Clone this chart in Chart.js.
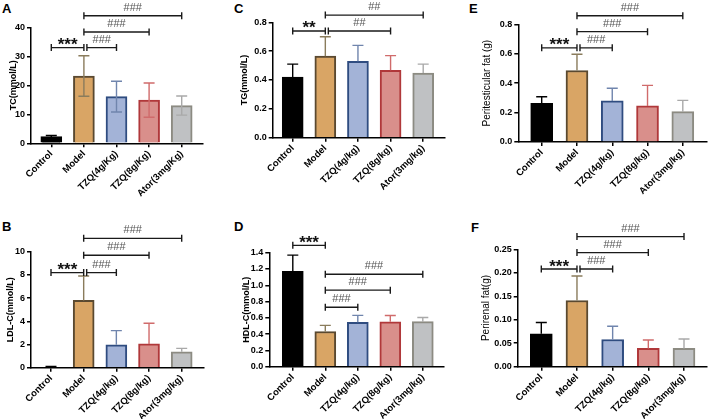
<!DOCTYPE html>
<html>
<head>
<meta charset="utf-8">
<script src="https://cdn.jsdelivr.net/npm/chart.js@4.4.1/dist/chart.umd.min.js"></script>
<style>
  body { margin: 0; background: #fff; }
  #fig { position: relative; width: 708px; height: 419px; overflow: hidden; font-family: "Liberation Sans", Arial, sans-serif; }
  #fig canvas { position: absolute; }
  .tag { position: absolute; font-weight: bold; font-size: 13px; line-height: 13px; color: #000; }
</style>
</head>
<body>
<div id="fig">
  <div class="tag" style="left:2px;top:2px">A</div>
  <div class="tag" style="left:234px;top:2px">C</div>
  <div class="tag" style="left:469px;top:2px">E</div>
  <div class="tag" style="left:2px;top:220px">B</div>
  <div class="tag" style="left:234px;top:220px">D</div>
  <div class="tag" style="left:471px;top:221px">F</div>
  <canvas id="cA" width="236" height="205" style="left:0;top:0"></canvas>
  <canvas id="cC" width="234" height="205" style="left:236px;top:0"></canvas>
  <canvas id="cE" width="238" height="205" style="left:470px;top:0"></canvas>
  <canvas id="cB" width="236" height="214" style="left:0;top:205px"></canvas>
  <canvas id="cD" width="234" height="214" style="left:236px;top:205px"></canvas>
  <canvas id="cF" width="238" height="214" style="left:470px;top:205px"></canvas>
</div>
<script>
// groups
const groupsA = ['Control', 'Model', 'TZQ(4g/Kg)', 'TZQ(8g/Kg)', 'Ator(3mg/Kg)'];
const groups = ['Control', 'Model', 'TZQ(4g/kg)', 'TZQ(8g/kg)', 'Ator(3mg/kg)'];

// A - TC
const tcMean = [2.3, 23.2, 16.1, 14.9, 13.0];
const tcSd = [0.4, 7.0, 5.3, 5.9, 3.3];
const tcTicks = ['0', '10', '20', '30', '40'];
const tcSig = [[0, 1, 33, '***'], [1, 2, 33, '###'], [1, 3, 38.4, '###'], [1, 4, 44, '###']];

// C - TG
const tgMean = [0.42, 0.565, 0.53, 0.467, 0.448];
const tgSd = [0.09, 0.135, 0.11, 0.102, 0.062];
const tgTicks = ['0.0', '0.2', '0.4', '0.6', '0.8'];
const tgSig = [[0, 1, 0.74, '**'], [1, 3, 0.74, '##'], [1, 4, 0.85, '##']];

// E - peritesticular fat
const ptfMean = [0.263, 0.486, 0.279, 0.245, 0.206];
const ptfSd = [0.045, 0.11, 0.086, 0.14, 0.077];
const ptfTicks = ['0.0', '0.2', '0.4', '0.6', '0.8'];
const ptfSig = [[0, 1, 0.64, '***'], [1, 2, 0.64, '###'], [1, 3, 0.75, '###'], [1, 4, 0.858, '###']];

// B - LDL-C
const ldlMean = [0.06, 5.8, 1.98, 2.05, 1.37];
const ldlSd = [0.04, 2.1, 1.22, 1.78, 0.3];
const ldlTicks = ['0', '2', '4', '6', '8', '10'];
const ldlSig = [[0, 1, 8.2, '***'], [1, 2, 8.2, '###'], [1, 3, 9.7, '###'], [1, 4, 11.15, '###']];

// D - HDL-C
const hdlMean = [1.17, 0.432, 0.545, 0.552, 0.553];
const hdlSd = [0.2, 0.075, 0.085, 0.077, 0.052];
const hdlTicks = ['0.0', '0.2', '0.4', '0.6', '0.8', '1.0', '1.2', '1.4'];
const hdlSig = [[0, 1, 1.49, '***'], [1, 2, 0.73, '###'], [1, 3, 0.94, '###'], [1, 4, 1.135, '###']];

// F - perirenal fat
const prfMean = [0.070, 0.141, 0.058, 0.039, 0.039];
const prfSd = [0.024, 0.052, 0.028, 0.018, 0.02];
const prfTicks = ['0.00', '0.05', '0.10', '0.15', '0.20', '0.25'];
const prfSig = [[0, 1, 0.208, '***'], [1, 2, 0.208, '###'], [1, 3, 0.243, '###'], [1, 4, 0.277, '###']];

// styles
const fills = ['#000000', '#d9a565', '#a3b3d7', '#d98f8b', '#bfc1c3'];
const edges = ['#000000', '#5a4930', '#2f4c80', '#b0383a', '#8c8b82'];
const errCols = ['#000000', '#8a7c5c', '#7085ad', '#d06b6b', '#a9a9a9'];

Chart.defaults.font.family = '"Liberation Sans", Arial, sans-serif';
Chart.defaults.color = '#000';

const marks = {
  id: 'marks',
  afterDatasetsDraw(chart, args, o) {
    const ctx = chart.ctx;
    const xs = chart.scales.x, ys = chart.scales.y;
    const bars = chart.getDatasetMeta(0).data;
    ctx.save();
    ctx.lineWidth = 1.4;
    bars.forEach((bar, i) => {
      const top = ys.getPixelForValue(o.means[i] + o.sd[i]);
      const bot = o.twoSided ? ys.getPixelForValue(o.means[i] - o.sd[i]) : bar.y;
      ctx.strokeStyle = errCols[i];
      ctx.beginPath();
      ctx.moveTo(bar.x, bot); ctx.lineTo(bar.x, top);
      ctx.moveTo(bar.x - 5.5, top); ctx.lineTo(bar.x + 5.5, top);
      if (o.twoSided) { ctx.moveTo(bar.x - 5.5, bot); ctx.lineTo(bar.x + 5.5, bot); }
      ctx.stroke();
    });
    o.sig.forEach(([a, b, lvl, txt]) => {
      let x1 = xs.getPixelForValue(a);
      const x2 = xs.getPixelForValue(b);
      if (o.sig.some(s => s[1] === a && s[2] === lvl)) x1 += 3;
      const y = ys.getPixelForValue(lvl);
      ctx.strokeStyle = '#1a1a1a';
      ctx.beginPath();
      ctx.moveTo(x1, y); ctx.lineTo(x2, y);
      ctx.moveTo(x1, y - 3.5); ctx.lineTo(x1, y + 3.5);
      ctx.moveTo(x2, y - 3.5); ctx.lineTo(x2, y + 3.5);
      ctx.stroke();
      ctx.textAlign = 'center';
      ctx.textBaseline = 'alphabetic';
      if (txt[0] === '*') {
        ctx.font = 'bold 17px "Liberation Sans", Arial, sans-serif';
        ctx.fillStyle = '#111';
        ctx.fillText(txt, (x1 + x2) / 2, y + 2.5);
      } else {
        ctx.font = '11px "Liberation Sans", Arial, sans-serif';
        ctx.fillStyle = '#555';
        ctx.fillText(txt, (x1 + x2) / 2, y - 5);
      }
    });
    ctx.restore();
  }
};

function axisLines() {
  return {
    grid: { display: true, drawOnChartArea: false, drawTicks: true, tickLength: 4, color: '#000', lineWidth: 1.5, offset: false },
    border: { display: true, color: '#000', width: 1.5 }
  };
}

function panel(id, L, labels, means, sd, ticks, sig, title, twoSided) {
  const [bx, by, bw, bh] = L.box;
  const [pl, pt, pr, pb] = L.plot;
  const lh = L.titleSize * 1.2;
  const axisLeft = L.titleX - lh / 2;
  const step = (L.centers[1] - L.centers[0]) / (labels.length - 1);
  const xmin = -(L.centers[0] - pl) / step;
  const xmax = labels.length - 1 + (pr - L.centers[1]) / step;
  const tickVals = ticks.map(t => parseFloat(t));

  new Chart(document.getElementById(id), {
    type: 'bar',
    data: {
      datasets: [{
        data: means.map((v, i) => ({ x: i, y: v })),
        backgroundColor: fills,
        borderColor: edges,
        borderWidth: 2,
        borderSkipped: 'bottom',
        barThickness: L.bar
      }]
    },
    options: {
      responsive: false,
      animation: false,
      events: [],
      layout: { padding: { left: axisLeft - bx, top: pt - by, right: bx + bw - pr, bottom: 0 } },
      plugins: {
        legend: { display: false },
        tooltip: { enabled: false },
        marks: { means, sd, sig, twoSided }
      },
      scales: {
        x: Object.assign(axisLines(), {
          type: 'linear', offset: false, bounds: 'data', min: xmin, max: xmax,
          ticks: { autoSkip: false, maxRotation: 45, minRotation: 45, padding: 1, color: '#000',
                   font: { size: 9.5, weight: 'bold' }, callback: v => labels[v] },
          afterBuildTicks: s => { s.ticks = labels.map((_, i) => ({ value: i })); },
          afterFit: s => { s.height = by + bh - pb; }
        }),
        y: Object.assign(axisLines(), {
          min: 0, max: tickVals[tickVals.length - 1],
          ticks: { padding: 2, color: '#000', font: { size: 9, weight: 'bold' }, callback: (v, i) => ticks[i] },
          afterBuildTicks: s => { s.ticks = tickVals.map(v => ({ value: v })); },
          afterFit: s => { s.width = pl - axisLeft; },
          title: { display: true, text: title, color: '#000', padding: 0,
                   font: { size: L.titleSize, weight: L.titleWeight } }
        })
      }
    },
    plugins: [marks]
  });
}

panel('cA', { box: [0, 0, 236, 205], plot: [31, 27.3, 203, 143.3], centers: [51.3, 181.7], titleX: 13.3, titleSize: 9, titleWeight: 'bold', bar: 21 },
  groupsA, tcMean, tcSd, tcTicks, tcSig, 'TC(mmol/L)', true);
panel('cC', { box: [236, 0, 234, 205], plot: [272.7, 22.3, 444.3, 137.7], centers: [292.7, 423.2], titleX: 244.3, titleSize: 9, titleWeight: 'bold', bar: 21 },
  groups, tgMean, tgSd, tgTicks, tgSig, 'TG(mmol/L)', false);
panel('cE', { box: [470, 0, 238, 205], plot: [518.3, 24.3, 706.7, 142], centers: [541.7, 682.8], titleX: 487.5, titleSize: 10, titleWeight: 'normal', bar: 22 },
  groups, ptfMean, ptfSd, ptfTicks, ptfSig, 'Peritesticular fat (g)', false);
panel('cB', { box: [0, 205, 236, 214], plot: [31, 251.7, 204, 367.7], centers: [51, 181.7], titleX: 10.3, titleSize: 9, titleWeight: 'bold', bar: 21 },
  groups, ldlMean, ldlSd, ldlTicks, ldlSig, 'LDL-C(mmol/L)', false);
panel('cD', { box: [236, 205, 234, 214], plot: [269.3, 252.7, 444, 366.7], centers: [292.8, 422.8], titleX: 246.3, titleSize: 9, titleWeight: 'bold', bar: 21 },
  groups, hdlMean, hdlSd, hdlTicks, hdlSig, 'HDL-C(mmol/L)', false);
panel('cF', { box: [470, 205, 238, 214], plot: [517.7, 249.3, 707, 366.7], centers: [541.3, 684], titleX: 486.5, titleSize: 10, titleWeight: 'normal', bar: 22 },
  groups, prfMean, prfSd, prfTicks, prfSig, 'Perirenal fat(g)', false);
</script>
</body>
</html>
